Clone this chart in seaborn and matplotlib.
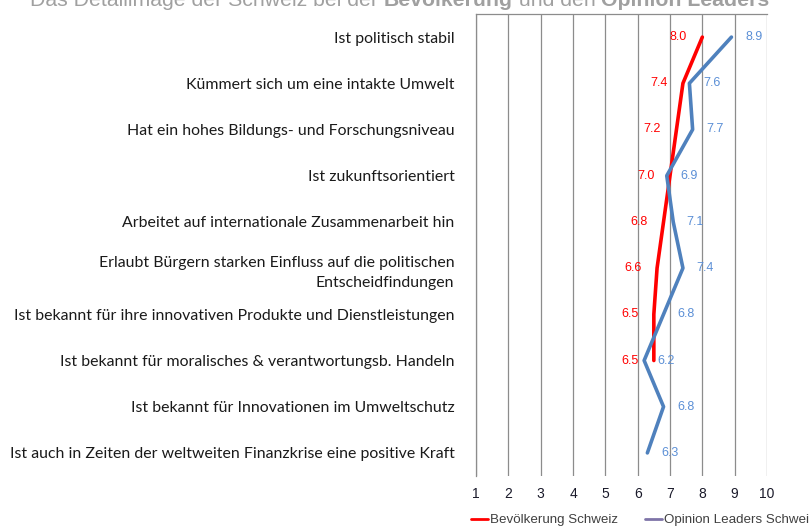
import pandas as pd
import numpy as np
import matplotlib
matplotlib.use("Agg")
import matplotlib.pyplot as plt
import seaborn as sns
from matplotlib.lines import Line2D

# Daten
categories = [
    "Ist politisch stabil",
    "Kümmert sich um eine intakte Umwelt",
    "Hat ein hohes Bildungs- und Forschungsniveau",
    "Ist zukunftsorientiert",
    "Arbeitet auf internationale Zusammenarbeit hin",
    "Erlaubt Bürgern starken Einfluss auf die politischen\nEntscheidfindungen",
    "Ist bekannt für ihre innovativen Produkte und Dienstleistungen",
    "Ist bekannt für moralisches & verantwortungsb. Handeln",
    "Ist bekannt für Innovationen im Umweltschutz",
    "Ist auch in Zeiten der weltweiten Finanzkrise eine positive Kraft",
]
bevoelkerung = [8.0, 7.4, 7.2, 7.0, 6.8, 6.6, 6.5, 6.5, np.nan, np.nan]
opinion_leaders = [8.9, 7.6, 7.7, 6.9, 7.1, 7.4, 6.8, 6.2, 6.8, 6.3]
series_names = ["Bevölkerung Schweiz", "Opinion Leaders Schweiz"]
x_ticks = list(range(1, 11))

RED = "#FF0000"
BLUE = "#4F81BD"
BLUE_LBL = "#5B8FD6"
GRID = "#8C8C8C"

pos = np.arange(len(categories))
df = pd.concat([
    pd.DataFrame({"pos": pos, "wert": bevoelkerung, "serie": series_names[0]}),
    pd.DataFrame({"pos": pos, "wert": opinion_leaders, "serie": series_names[1]}),
]).dropna()

sns.set_style("white")
plt.rcParams["font.family"] = ["Liberation Sans", "DejaVu Sans"]

fig = plt.figure(figsize=(8.09, 5.28), dpi=100)
ax = fig.add_axes([476 / 809, 1 - 476 / 528, (767 - 476) / 809, (476 - 14) / 528])

sns.lineplot(data=df, x="wert", y="pos", hue="serie", orient="y", sort=False,
             palette={series_names[0]: RED, series_names[1]: BLUE},
             linewidth=2.6, ax=ax, legend=False)
ax.set_xlabel("")
ax.set_ylabel("")

# Datenbeschriftungen
for p, v in zip(pos, bevoelkerung):
    if not np.isnan(v):
        ax.annotate(f"{v:.1f}", (v, p), xytext=(-17.5, 0), textcoords="offset points",
                    ha="center", va="center", color=RED, fontsize=9)
for p, v in zip(pos, opinion_leaders):
    ax.annotate(f"{v:.1f}", (v, p), xytext=(16, 0), textcoords="offset points",
                ha="center", va="center", color=BLUE_LBL, fontsize=9)

ax.set_xlim(1, 10)
ax.set_ylim(9.5, -0.5)
ax.set_xticks(x_ticks)
ax.set_xticklabels([str(t) for t in x_ticks], fontsize=10, color="#1a1a2a")
ax.tick_params(axis="x", length=0, pad=8)
ax.grid(axis="x", color=GRID, linewidth=0.9)
ax.grid(axis="y", visible=False)

# y-Achse: Striche zwischen den Kategorien, Beschriftung in der Mitte
ax.set_yticks(np.arange(-0.5, len(categories), 1.0))
ax.set_yticklabels([])
ax.tick_params(axis="y", which="major", length=6, color=GRID, width=0.9, direction="out")
ax.set_yticks(pos, minor=True)
ax.set_yticklabels(categories, minor=True, fontsize=11.4, color="#1a1a1a",
                   family=["Lato", "DejaVu Sans"], ha="right", linespacing=1.6)
ax.tick_params(axis="y", which="minor", length=0, pad=15.5)

for side in ["right", "bottom"]:
    ax.spines[side].set_visible(False)
ax.spines["left"].set_color(GRID)
ax.spines["top"].set_color(GRID)
ax.spines["left"].set_linewidth(0.9)
ax.spines["top"].set_linewidth(0.9)

# Legende
handles = [Line2D([], [], color=RED, linewidth=2),
           Line2D([], [], color="#7E74A8", linewidth=2)]
fig.legend(handles, series_names, loc="center left", bbox_to_anchor=(459 / 809, 1 - 520 / 528),
           ncol=2, frameon=False, fontsize=9.6, handlelength=1.3, handletextpad=0.15,
           columnspacing=2.0, labelcolor="#404040")

# Titel (oben angeschnitten)
title_parts = [("Das Detailimage der Schweiz bei der ", "normal"), ("Bevölkerung", "bold"),
               (" und den ", "normal"), ("Opinion Leaders", "bold")]
fig.canvas.draw()
renderer = fig.canvas.get_renderer()
x0 = 30 / 809
for txt, w in title_parts:
    t = fig.text(x0, 1 - 6 / 528, txt, fontsize=15.3, color="#A0A0A0", weight=w, va="baseline")
    bb = t.get_window_extent(renderer)
    x0 += bb.width / fig.bbox.width

fig.savefig("out.png", dpi=100)
